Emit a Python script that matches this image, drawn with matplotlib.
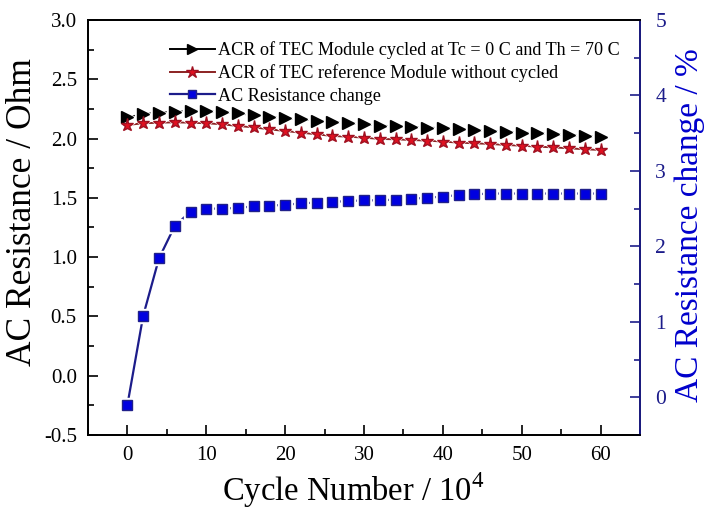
import matplotlib.pyplot as plt
import numpy as np
from matplotlib.ticker import MultipleLocator

plt.rcParams['font.family'] = ['Liberation Serif', 'DejaVu Serif']
plt.rcParams['axes.unicode_minus'] = False
plt.rcParams['mathtext.fontset'] = 'custom'
plt.rcParams['mathtext.rm'] = 'Liberation Serif'

cycles = list(range(0, 61, 2))

acr_cycled = [2.179, 2.205, 2.219, 2.224, 2.233, 2.233, 2.224, 2.213, 2.199, 2.185,
              2.171, 2.163, 2.151, 2.143, 2.129, 2.121, 2.109, 2.103, 2.100, 2.092,
              2.087, 2.078, 2.073, 2.064, 2.056, 2.050, 2.045, 2.039, 2.030, 2.022,
              2.016]

acr_reference = [2.115, 2.129, 2.134, 2.137, 2.134, 2.129, 2.121, 2.106, 2.095, 2.078,
                 2.064, 2.050, 2.036, 2.022, 2.016, 2.008, 1.997, 1.994, 1.988, 1.983,
                 1.975, 1.966, 1.960, 1.955, 1.946, 1.940, 1.932, 1.926, 1.918, 1.910,
                 1.904]

ac_change = [-0.10, 1.08, 1.84, 2.27, 2.46, 2.50, 2.50, 2.51, 2.53, 2.54,
             2.55, 2.57, 2.58, 2.59, 2.60, 2.61, 2.61, 2.62, 2.63, 2.645,
             2.66, 2.68, 2.69, 2.70, 2.70, 2.70, 2.70, 2.70, 2.70, 2.70,
             2.70]

labels = ['ACR of TEC Module cycled at Tc = 0 C and Th = 70 C',
          'ACR of TEC reference Module without cycled',
          'AC Resistance change']

fig = plt.figure(figsize=(7.05, 5.11), dpi=100)
ax = fig.add_axes([0.1248, 0.1487, 0.7830, 0.8122])
ax2 = ax.twinx()

navy = '#1c1c8a'

# white halo under markers, like the gaps in the original
ax.plot(cycles, acr_cycled, color='black', lw=1.4, zorder=2)
ax.plot(cycles, acr_cycled, ls='none', marker='>', ms=11, color='white', zorder=3)
ax.plot(cycles, acr_cycled, ls='none', marker='>', ms=8,
        mfc='black', mec='black', zorder=4)

ax.plot(cycles, acr_reference, color='#8b2323', lw=1.4, zorder=2)
ax.plot(cycles, acr_reference, ls='none', marker='*', ms=12, color='white', zorder=3)
ax.plot(cycles, acr_reference, ls='none', marker='*', ms=9.5,
        mfc='#e01020', mec='#a01020', zorder=4)

ax2.plot(cycles, ac_change, color=navy, lw=1.6, zorder=2)
ax2.plot(cycles, ac_change, ls='none', marker='s', ms=10, color='white', zorder=3)
ax2.plot(cycles, ac_change, ls='none', marker='s', ms=7,
         mfc='#0000e0', mec='#20208a', zorder=4)

# legend handles with lines
h = [plt.Line2D([], [], color='black', lw=1.4, marker='>', ms=7, mfc='black', mec='black'),
     plt.Line2D([], [], color='#8b2323', lw=1.4, marker='*', ms=9, mfc='#e01020', mec='#a01020'),
     plt.Line2D([], [], color=navy, lw=1.6, marker='s', ms=6, mfc='#0000e0', mec='#20208a')]
ax.legend(h, labels, loc='upper left', bbox_to_anchor=(0.148, 0.948), frameon=False,
          borderaxespad=0, borderpad=0, fontsize=13.1, handlelength=2.5,
          handletextpad=0.15, labelspacing=0.28)

ax.set_xlim(-5, 65)
ax.set_ylim(-0.5, 3.0)
ax2.set_ylim(-0.5, 5)

ax.xaxis.set_major_locator(MultipleLocator(10))
ax.xaxis.set_minor_locator(MultipleLocator(5))
ax.yaxis.set_major_locator(MultipleLocator(0.5))
ax.yaxis.set_minor_locator(MultipleLocator(0.25))
ax2.yaxis.set_major_locator(MultipleLocator(1))
ax2.yaxis.set_minor_locator(MultipleLocator(0.5))
ax.yaxis.set_major_formatter(plt.FormatStrFormatter('%.1f'))

ax.tick_params(axis='both', which='major', direction='in', length=7, width=1.2,
               labelsize=15, top=False, right=False, pad=8)
ax.tick_params(axis='both', which='minor', direction='in', length=4, width=1.2,
               top=False, right=False)
ax2.tick_params(axis='y', which='major', direction='in', length=7, width=1.2,
                labelsize=15.5, colors=navy, pad=11)
ax2.tick_params(axis='y', which='minor', direction='in', length=4, width=1.2, colors=navy)

for s in ax.spines.values():
    s.set_linewidth(1.3)
for s in ax2.spines.values():
    s.set_linewidth(1.3)
ax2.spines['right'].set_color(navy)

ax.set_xlabel('Cycle Number / 10$^4$', fontsize=23.5, labelpad=0)
ax.xaxis.set_label_coords(0.48, -0.085)
ax.set_ylabel('AC Resistance / Ohm', fontsize=25.5)
ax.yaxis.set_label_coords(-0.088, 0.536)
ax2.set_ylabel('AC Resistance change / %', fontsize=24, color='#0000cc')
ax2.yaxis.set_label_coords(1.063, 0.505)

fig.savefig('out.png', dpi=100)
